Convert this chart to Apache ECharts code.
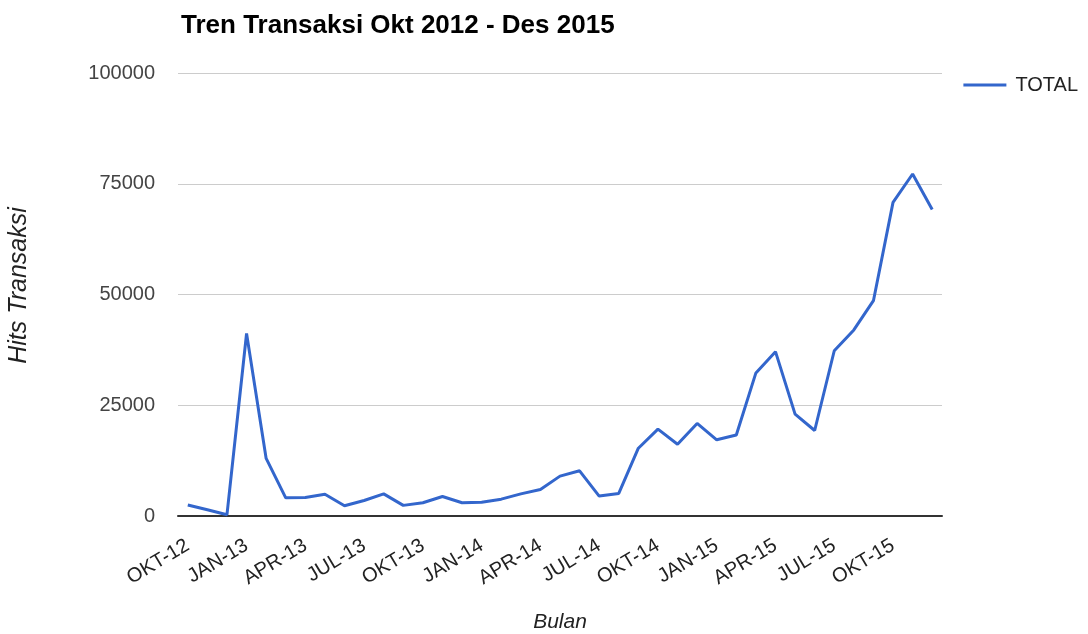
<!DOCTYPE html>
<html>
<head>
<meta charset="utf-8">
<script src="https://cdn.jsdelivr.net/npm/echarts@6/dist/echarts.min.js"></script>
<style>
  html, body { margin: 0; padding: 0; background: #fff; }
  #main { width: 1088px; height: 634px; }
</style>
</head>
<body>
<div id="main"></div>
<script type="text/javascript">
    // bulan Okt 2012 - Des 2015
    var months = [
        'OKT-12', 'NOV-12', 'DES-12',
        'JAN-13', 'FEB-13', 'MAR-13', 'APR-13', 'MEI-13', 'JUN-13', 'JUL-13', 'AGU-13', 'SEP-13', 'OKT-13', 'NOV-13', 'DES-13',
        'JAN-14', 'FEB-14', 'MAR-14', 'APR-14', 'MEI-14', 'JUN-14', 'JUL-14', 'AGU-14', 'SEP-14', 'OKT-14', 'NOV-14', 'DES-14',
        'JAN-15', 'FEB-15', 'MAR-15', 'APR-15', 'MEI-15', 'JUN-15', 'JUL-15', 'AGU-15', 'SEP-15', 'OKT-15', 'NOV-15', 'DES-15'
    ];
    var total = [
        2500, 1400, 300,
        41200, 13000, 4100, 4200, 4900, 2300, 3500, 5000, 2400, 3000, 4400, 3000,
        3100, 3800, 5000, 6000, 9000, 10200, 4500, 5100, 15300, 19600, 16200, 20900,
        17200, 18300, 32300, 37100, 23000, 19300, 37300, 42000, 48600, 70800, 77200, 69200
    ];
    var yTicks = [0, 25000, 50000, 75000, 100000];

    var myChart = echarts.init(document.getElementById('main'));
    var option = {
        title: {
            text: 'Tren Transaksi Okt 2012 - Des 2015',
            left: 176,
            top: 8,
            textStyle: { fontFamily: 'Liberation Sans', fontSize: 26, fontWeight: 'bold', color: '#000' }
        },
        legend: {
            data: ['TOTAL'],
            right: 5,
            top: 70,
            icon: 'rect',
            itemWidth: 43,
            itemHeight: 3,
            itemGap: 10,
            textStyle: { fontFamily: 'Liberation Sans', fontSize: 20, color: '#222', padding: [0, 0, 0, 4] }
        },
        grid: { left: 178, right: 146, top: 73, bottom: 118, outerBoundsMode: 'none' },
        xAxis: {
            type: 'category',
            data: months,
            boundaryGap: true,
            name: 'Bulan',
            nameLocation: 'middle',
            nameGap: 96,
            nameTextStyle: { fontFamily: 'Liberation Sans', fontSize: 21, fontStyle: 'italic', color: '#222' },
            axisLine: { lineStyle: { color: '#333', width: 2 } },
            axisTick: { show: false },
            axisLabel: {
                interval: 2,
                rotate: 31,
                margin: 28,
                fontFamily: 'Liberation Sans',
                fontSize: 20,
                color: '#222'
            }
        },
        yAxis: {
            type: 'value',
            min: yTicks[0],
            max: yTicks[yTicks.length - 1],
            interval: yTicks[1] - yTicks[0],
            name: 'Hits Transaksi',
            nameLocation: 'middle',
            nameGap: 146,
            nameRotate: 90,
            nameTextStyle: { fontFamily: 'Liberation Sans', fontSize: 25, fontStyle: 'italic', color: '#222', padding: [0, 0, 0, 18] },
            axisLine: { show: false },
            axisTick: { show: false },
            axisLabel: {
                margin: 23,
                fontFamily: 'Liberation Sans',
                fontSize: 20,
                color: '#444',
                formatter: function (v) { return String(v); }
            },
            splitLine: { lineStyle: { color: '#ccc', width: 1 } }
        },
        series: [{
            name: 'TOTAL',
            type: 'line',
            data: total,
            symbol: 'none',
            color: '#3366cc',
            lineStyle: { width: 3, color: '#3366cc' }
        }]
    };
    myChart.setOption(option);
</script>
</body>
</html>
